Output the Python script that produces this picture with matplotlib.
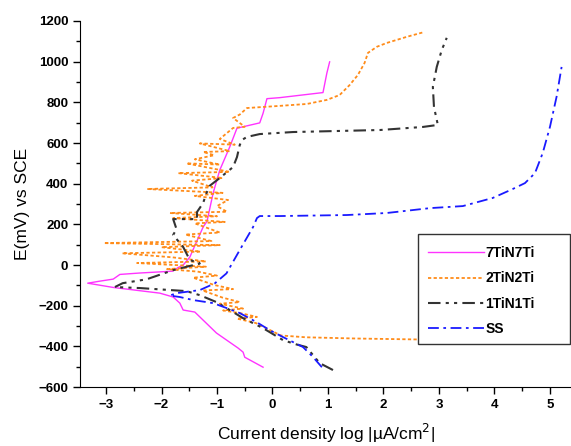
import matplotlib as mpl
mpl.use('Agg')
import matplotlib.pyplot as plt
from matplotlib.patches import Rectangle
from matplotlib.ticker import MultipleLocator

plt.rcParams['font.family'] = ['Liberation Sans', 'DejaVu Sans']

# Tafel curves: log current density vs potential (mV vs SCE)
x7 = [-0.17, -0.50, -0.53, -0.62, -1.01, -1.40, -1.61, -1.67, -1.79, -2.03, -2.87, -3.33,
      -3.11, -2.87, -2.75, -2.39, -1.80, -1.70, -1.61, -1.49, -1.40, -1.25, -1.18, -1.07,
      -0.95, -0.77, -0.64, -0.23, -0.17, -0.10, 0.13, 0.91, 0.98, 1.03]
y7 = [-502, -453, -428, -408, -334, -231, -221, -187, -157, -138, -110, -89,
      -79, -69, -46, -39, -30, -12, 0, 39, 95, 187, 215, 354,
      467, 581, 673, 699, 746, 818, 823, 848, 944, 999]

x2 = [2.70, 1.50, 0.60, 0.15, -0.10, -0.30, -0.64, -0.28, -0.55, -0.89, -0.53, -0.95,
      -0.59, -0.90, -1.26, -0.71, -1.05, -1.43, -1.00, -1.35, -1.90, -1.20, -2.44, -1.20,
      -1.80, -2.71, -1.30, -2.00, -0.95, -3.04, -1.10, -1.57, -0.95, -1.40, -0.86, -1.79,
      -1.00, -1.85, -0.82, -1.00, -0.80, -1.40, -0.90, -2.26, -1.08, -1.45, -0.90, -1.70,
      -0.77, -1.55, -0.95, -1.40, -1.05, -1.25, -0.77, -1.31, -0.68, -0.95, -0.71, -0.50,
      -0.71, -0.59, -0.46, 0.10, 0.62, 0.98, 1.21, 1.39, 1.54, 1.66, 1.72, 1.88,
      2.06, 2.42, 2.74]
y2 = [-366, -361, -355, -346, -312, -285, -263, -255, -238, -223, -214, -190,
      -182, -160, -125, -118, -98, -62, -52, -32, -20, -8, 10, 18,
      38, 58, 66, 88, 98, 108, 118, 150, 160, 205, 212, 231,
      240, 256, 262, 290, 320, 340, 355, 374, 382, 415, 428, 452,
      458, 500, 494, 520, 540, 556, 560, 598, 592, 620, 674, 680,
      723, 740, 772, 782, 792, 812, 836, 885, 935, 994, 1043, 1073,
      1092, 1122, 1146]

x1 = [1.09, 0.85, 0.61, 0.43, 0.19, -0.17, -0.53, -0.77, -1.01, -1.31, -1.55, -2.39,
      -2.84, -2.70, -2.27, -1.79, -1.31, -1.49, -1.61, -1.79, -1.73, -1.79, -1.36, -1.36,
      -1.25, -1.19, -1.13, -0.95, -0.71, -0.64, -0.59, -0.55, -0.46, -0.23, 0.37, 1.94,
      2.71, 2.98, 2.91, 2.89, 2.96, 3.05, 3.14]
y1 = [-516, -482, -403, -390, -369, -310, -261, -221, -182, -148, -128, -113,
      -108, -89, -70, -25, 8, 25, 89, 148, 177, 226, 226, 261,
      305, 354, 390, 428, 482, 531, 590, 615, 630, 644, 654, 664,
      679, 689, 777, 876, 974, 1057, 1117]

xs = [0.89, 0.73, 0.55, 0.19, -0.05, -0.29, -0.59, -0.83, -1.07, -1.43, -1.67, -1.85,
      -1.73, -1.31, -1.04, -0.83, -0.59, -0.35, -0.28, -0.23, 0.13, 1.34, 2.06, 2.84,
      3.43, 3.97, 4.33, 4.55, 4.73, 4.87, 5.00, 5.12, 5.21]
ys = [-502, -452, -403, -354, -320, -280, -236, -211, -187, -172, -157, -150,
      -138, -123, -90, -41, 74, 187, 231, 241, 241, 246, 256, 280,
      290, 330, 374, 403, 452, 551, 679, 828, 974]

W, H = 571, 446
fig = plt.figure(figsize=(W / 100, H / 100), dpi=100)
ax = fig.add_axes([0.140, 0.132, 0.862, 0.821])

ax.plot(x7, y7, color='#ff33ff', lw=1.0, label='7TiN7Ti')
ax.plot(x2, y2, color='#ff8c1a', lw=1.3, dashes=(1.8, 1.3), label='2TiN2Ti')
ax.plot(x1, y1, color='#333333', lw=1.5, dashes=(6, 2.5, 1.5, 2.5, 1.5, 2.5), label='1TiN1Ti')
ax.plot(xs, ys, color='#1a1aff', lw=1.3, dashes=(6, 2.5, 1.5, 2.5), label='SS')

ax.set_xlim(-3.47, 5.4)
ax.set_ylim(-600, 1200)
ax.xaxis.set_major_locator(MultipleLocator(1))
ax.xaxis.set_minor_locator(MultipleLocator(0.5))
ax.yaxis.set_major_locator(MultipleLocator(200))
ax.yaxis.set_minor_locator(MultipleLocator(100))
ax.spines['top'].set_visible(False)
ax.spines['right'].set_visible(False)
ax.tick_params(which='major', length=5, width=1, labelsize=9.5)
ax.tick_params(which='minor', length=3, width=1)
for lab in ax.get_xticklabels() + ax.get_yticklabels():
    lab.set_fontweight('bold')

ax.set_xlabel('Current density log |\u00b5A/cm$^2$|', fontsize=12.5, labelpad=8)
ax.set_ylabel('E(mV) vs SCE', fontsize=12.5, labelpad=6)

# legend box drawn separately so the frame can be wider than the entries
box = Rectangle((418 / W, 1 - 344 / H), 152 / W, 110 / H, transform=fig.transFigure,
                facecolor='white', edgecolor='#333333', lw=1.0, clip_on=False, zorder=4)
ax.add_patch(box)

leg = ax.legend(loc='upper left', bbox_to_anchor=(420 / W, 1 - 238 / H),
                bbox_transform=fig.transFigure, borderaxespad=0, frameon=False,
                handlelength=4.0, handletextpad=0.1, labelspacing=0.8, borderpad=0.6,
                prop={'weight': 'bold', 'size': 10})
leg.set_zorder(5)

fig.savefig('out.png', dpi=100)
